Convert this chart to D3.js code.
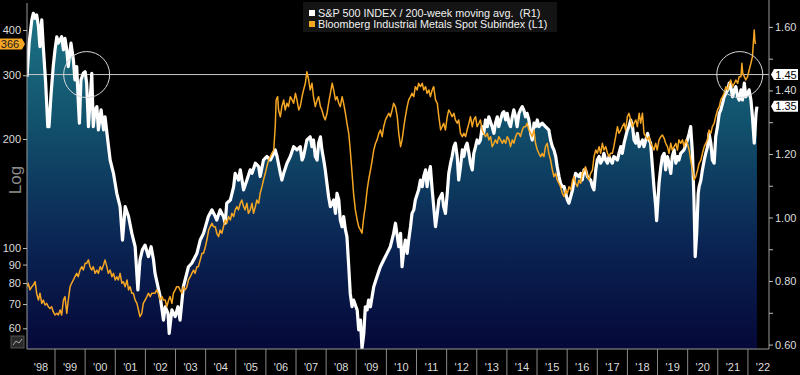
<!DOCTYPE html>
<html>
<head>
<meta charset="utf-8">
<script src="https://cdn.jsdelivr.net/npm/d3@7"></script>
<style>
  html, body { margin: 0; padding: 0; background: #000; }
  svg { display: block; }
  text { font-family: "Liberation Sans", Arial, sans-serif; }
</style>
</head>
<body>
<svg id="chart" width="800" height="375"></svg>
<script>
// S&P 500 / 200-week moving avg (right axis, R1)  [decimal year, ratio]
const spxRatio = [
  [1998.07,1.443],[1998.14,1.549],[1998.23,1.622],[1998.28,1.643],[1998.34,1.627],[1998.39,1.638],
  [1998.45,1.601],[1998.50,1.538],[1998.56,1.622],[1998.61,1.538],[1998.69,1.423],[1998.76,1.286],
  [1998.80,1.286],[1998.87,1.391],[1998.94,1.475],[1999.00,1.528],[1999.06,1.569],[1999.11,1.549],
  [1999.22,1.569],[1999.28,1.528],[1999.33,1.564],[1999.39,1.528],[1999.44,1.475],[1999.53,1.549],
  [1999.61,1.496],[1999.66,1.433],[1999.72,1.475],[1999.77,1.370],[1999.81,1.297],[1999.86,1.433],
  [1999.94,1.454],[2000.00,1.459],[2000.05,1.423],[2000.11,1.286],[2000.22,1.454],[2000.27,1.286],
  [2000.33,1.339],[2000.39,1.349],[2000.44,1.276],[2000.53,1.339],[2000.61,1.276],[2000.66,1.317],
  [2000.75,1.244],[2000.83,1.181],[2000.94,1.139],[2001.05,1.076],[2001.16,1.034],[2001.24,0.929],
  [2001.33,1.034],[2001.44,1.003],[2001.55,0.950],[2001.66,0.908],[2001.75,0.772],[2001.82,0.866],
  [2001.90,0.898],[2001.99,0.913],[2002.10,0.877],[2002.19,0.908],[2002.27,0.866],[2002.32,0.824],
  [2002.49,0.751],[2002.60,0.677],[2002.66,0.719],[2002.75,0.698],[2002.79,0.635],[2002.88,0.709],
  [2002.99,0.688],[2003.08,0.719],[2003.15,0.677],[2003.26,0.782],[2003.43,0.845],[2003.54,0.856],
  [2003.71,0.887],[2003.82,0.929],[2003.93,0.950],[2004.09,1.003],[2004.21,1.024],[2004.32,1.003],
  [2004.37,0.992],[2004.48,1.024],[2004.59,1.003],[2004.65,0.982],[2004.70,1.045],[2004.82,1.055],
  [2004.93,1.097],[2004.98,1.139],[2005.09,1.118],[2005.15,1.150],[2005.26,1.087],[2005.37,1.118],
  [2005.48,1.150],[2005.54,1.139],[2005.65,1.171],[2005.76,1.160],[2005.81,1.129],[2005.92,1.181],
  [2006.03,1.192],[2006.15,1.181],[2006.26,1.202],[2006.31,1.213],[2006.37,1.192],[2006.48,1.139],
  [2006.53,1.118],[2006.59,1.139],[2006.70,1.171],[2006.81,1.192],[2006.92,1.223],[2007.03,1.213],
  [2007.14,1.223],[2007.20,1.181],[2007.25,1.192],[2007.36,1.244],[2007.47,1.254],[2007.53,1.223],
  [2007.58,1.244],[2007.64,1.192],[2007.70,1.181],[2007.75,1.234],[2007.81,1.254],[2007.86,1.213],
  [2007.92,1.181],[2007.97,1.150],[2008.08,1.066],[2008.14,1.034],[2008.25,1.055],[2008.31,1.013],
  [2008.36,1.076],[2008.42,1.055],[2008.47,0.992],[2008.53,0.971],[2008.58,1.003],[2008.64,0.961],
  [2008.69,0.940],[2008.75,0.845],[2008.80,0.761],[2008.86,0.719],[2008.91,0.740],[2009.03,0.709],
  [2009.08,0.646],[2009.14,0.677],[2009.19,0.588],[2009.25,0.635],[2009.30,0.719],[2009.36,0.709],
  [2009.41,0.740],[2009.47,0.719],[2009.58,0.782],[2009.69,0.814],[2009.80,0.845],[2009.91,0.866],
  [2010.02,0.887],[2010.13,0.908],[2010.24,0.950],[2010.30,0.982],[2010.41,0.908],[2010.47,0.950],
  [2010.52,0.845],[2010.58,0.898],[2010.63,0.929],[2010.69,0.887],[2010.74,0.929],[2010.80,0.971],
  [2010.85,1.013],[2010.91,1.024],[2010.96,1.055],[2011.07,1.087],[2011.13,1.118],[2011.19,1.097],
  [2011.24,1.129],[2011.30,1.150],[2011.35,1.097],[2011.41,1.139],[2011.46,1.160],[2011.52,1.087],
  [2011.57,1.034],[2011.63,0.971],[2011.69,1.013],[2011.74,1.055],[2011.85,1.076],[2011.90,1.034],
  [2011.96,1.013],[2012.02,1.076],[2012.07,1.139],[2012.13,1.171],[2012.18,1.192],[2012.24,1.223],
  [2012.29,1.234],[2012.35,1.192],[2012.40,1.118],[2012.46,1.160],[2012.52,1.213],[2012.57,1.192],
  [2012.63,1.223],[2012.68,1.234],[2012.74,1.202],[2012.79,1.171],[2012.85,1.150],[2012.90,1.202],
  [2012.96,1.223],[2013.01,1.244],[2013.07,1.234],[2013.12,1.244],[2013.18,1.286],[2013.23,1.265],
  [2013.29,1.307],[2013.35,1.286],[2013.40,1.317],[2013.51,1.286],[2013.57,1.265],[2013.62,1.297],
  [2013.68,1.317],[2013.73,1.286],[2013.79,1.307],[2013.85,1.328],[2013.90,1.333],[2013.96,1.307],
  [2014.01,1.328],[2014.07,1.297],[2014.12,1.286],[2014.18,1.317],[2014.23,1.339],[2014.29,1.317],
  [2014.34,1.286],[2014.40,1.328],[2014.45,1.339],[2014.51,1.349],[2014.56,1.339],[2014.62,1.317],
  [2014.67,1.328],[2014.73,1.307],[2014.79,1.265],[2014.84,1.244],[2014.90,1.297],[2014.95,1.286],
  [2015.01,1.307],[2015.06,1.286],[2015.17,1.297],[2015.28,1.286],[2015.39,1.276],[2015.45,1.244],
  [2015.51,1.223],[2015.56,1.213],[2015.62,1.192],[2015.67,1.160],[2015.73,1.129],[2015.78,1.108],
  [2015.84,1.097],[2015.90,1.097],[2015.95,1.076],[2016.01,1.055],[2016.06,1.045],[2016.12,1.066],
  [2016.18,1.087],[2016.23,1.118],[2016.28,1.139],[2016.39,1.129],[2016.45,1.139],[2016.50,1.118],
  [2016.56,1.150],[2016.61,1.150],[2016.67,1.129],[2016.78,1.118],[2016.84,1.097],[2016.89,1.087],
  [2016.95,1.150],[2017.00,1.181],[2017.06,1.192],[2017.11,1.171],[2017.17,1.181],[2017.22,1.202],
  [2017.28,1.181],[2017.34,1.171],[2017.39,1.192],[2017.44,1.181],[2017.50,1.171],[2017.55,1.192],
  [2017.67,1.181],[2017.72,1.202],[2017.78,1.223],[2017.83,1.202],[2017.89,1.234],[2017.94,1.254],
  [2018.00,1.276],[2018.05,1.286],[2018.11,1.307],[2018.17,1.286],[2018.22,1.244],[2018.28,1.234],
  [2018.33,1.265],[2018.39,1.223],[2018.44,1.234],[2018.50,1.244],[2018.55,1.223],[2018.61,1.244],
  [2018.67,1.265],[2018.72,1.244],[2018.77,1.234],[2018.83,1.160],[2018.88,1.097],[2018.94,1.034],
  [2018.97,0.990],[2019.00,1.034],[2019.05,1.108],[2019.11,1.160],[2019.16,1.192],[2019.22,1.202],
  [2019.27,1.150],[2019.33,1.192],[2019.38,1.171],[2019.44,1.139],[2019.49,1.192],[2019.55,1.213],
  [2019.61,1.171],[2019.66,1.192],[2019.71,1.181],[2019.77,1.202],[2019.88,1.213],[2019.99,1.244],
  [2020.05,1.265],[2020.10,1.286],[2020.16,1.202],[2020.21,1.055],[2020.25,0.877],[2020.30,0.950],
  [2020.35,1.076],[2020.38,1.097],[2020.44,1.118],[2020.49,1.150],[2020.55,1.181],[2020.60,1.202],
  [2020.66,1.223],[2020.71,1.265],[2020.77,1.234],[2020.82,1.181],[2020.88,1.171],[2020.93,1.254],
  [2020.99,1.286],[2021.05,1.328],[2021.10,1.339],[2021.16,1.360],[2021.21,1.380],[2021.27,1.391],
  [2021.33,1.402],[2021.38,1.423],[2021.43,1.412],[2021.49,1.380],[2021.55,1.402],[2021.60,1.412],
  [2021.66,1.380],[2021.71,1.370],[2021.77,1.402],[2021.82,1.370],[2021.88,1.423],[2021.93,1.380],
  [2021.99,1.391],[2022.04,1.402],[2022.10,1.370],[2022.15,1.317],[2022.21,1.234],[2022.27,1.328],
  [2022.30,1.349]
];

// Bloomberg Industrial Metals Spot Subindex (left log axis, L1)  [decimal year, index]
const metalsIndex = [
  [1998.07,78.2],[1998.11,79.9],[1998.17,76.6],[1998.23,78.2],[1998.28,79.0],[1998.34,80.7],
  [1998.39,75.0],[1998.45,71.8],[1998.50,75.0],[1998.56,70.3],[1998.61,71.8],[1998.67,69.6],
  [1998.72,70.3],[1998.78,68.8],[1998.83,68.1],[1998.89,68.8],[1998.94,66.7],[1999.00,65.3],
  [1999.06,66.0],[1999.11,65.3],[1999.17,67.4],[1999.22,65.3],[1999.28,71.8],[1999.33,73.4],
  [1999.39,66.0],[1999.44,71.8],[1999.50,78.2],[1999.55,79.9],[1999.61,81.6],[1999.66,83.3],
  [1999.72,85.1],[1999.77,83.3],[1999.83,86.9],[1999.89,88.8],[1999.94,86.9],[2000.00,90.7],
  [2000.05,90.7],[2000.11,92.7],[2000.16,88.8],[2000.22,86.9],[2000.27,88.8],[2000.33,85.1],
  [2000.39,86.9],[2000.44,85.1],[2000.50,88.8],[2000.55,86.9],[2000.61,89.7],[2000.66,92.7],
  [2000.72,88.8],[2000.77,85.1],[2000.83,86.9],[2000.89,83.3],[2000.94,85.1],[2001.00,81.6],
  [2001.05,83.3],[2001.10,81.6],[2001.16,85.1],[2001.22,79.9],[2001.27,80.7],[2001.33,78.2],
  [2001.39,81.6],[2001.44,76.6],[2001.49,78.2],[2001.55,75.0],[2001.60,75.0],[2001.66,71.8],
  [2001.72,70.3],[2001.77,67.4],[2001.82,64.6],[2001.88,66.0],[2001.93,70.3],[2001.99,71.8],
  [2002.05,73.4],[2002.10,75.0],[2002.16,73.4],[2002.21,75.0],[2002.27,75.0],[2002.32,75.0],
  [2002.38,76.6],[2002.43,75.0],[2002.49,71.8],[2002.55,73.4],[2002.60,71.8],[2002.66,71.8],
  [2002.71,68.8],[2002.77,71.8],[2002.82,73.4],[2002.88,70.3],[2002.93,75.0],[2002.99,76.6],
  [2003.04,78.2],[2003.10,78.2],[2003.15,76.6],[2003.21,75.0],[2003.26,78.2],[2003.32,76.6],
  [2003.38,78.2],[2003.43,81.6],[2003.49,83.3],[2003.54,85.1],[2003.60,86.9],[2003.65,85.1],
  [2003.71,88.8],[2003.76,88.8],[2003.82,92.7],[2003.88,96.7],[2003.93,96.7],[2003.99,100.8],
  [2004.04,105.2],[2004.10,112.1],[2004.15,114.5],[2004.21,117.0],[2004.26,114.5],[2004.32,114.5],
  [2004.37,109.8],[2004.43,107.5],[2004.48,112.1],[2004.54,109.8],[2004.59,114.5],[2004.65,119.5],
  [2004.70,117.0],[2004.76,122.1],[2004.82,119.5],[2004.87,124.7],[2004.93,122.1],[2004.98,127.4],
  [2005.04,130.1],[2005.09,127.4],[2005.15,132.9],[2005.20,135.7],[2005.26,130.1],[2005.31,127.4],
  [2005.37,132.9],[2005.42,124.7],[2005.48,127.4],[2005.54,132.9],[2005.59,124.7],[2005.65,130.1],
  [2005.70,135.7],[2005.76,132.9],[2005.81,141.6],[2005.87,147.7],[2005.92,154.1],[2005.98,160.8],
  [2006.03,167.7],[2006.09,175.0],[2006.15,178.7],[2006.20,182.6],[2006.26,186.5],[2006.31,216.3],
  [2006.34,256.4],[2006.39,261.8],[2006.42,240.6],[2006.48,230.5],[2006.53,245.7],[2006.59,256.4],
  [2006.64,240.6],[2006.70,251.0],[2006.75,245.7],[2006.81,261.8],[2006.87,256.4],[2006.92,251.0],
  [2006.98,267.5],[2007.03,256.4],[2007.09,240.6],[2007.14,245.7],[2007.20,261.8],[2007.25,273.2],
  [2007.31,285.1],[2007.36,306.9],[2007.42,291.1],[2007.47,273.2],[2007.53,285.1],[2007.58,261.8],
  [2007.64,245.7],[2007.70,256.4],[2007.75,261.8],[2007.81,245.7],[2007.86,240.6],[2007.92,230.5],
  [2007.97,225.8],[2008.03,235.6],[2008.08,251.0],[2008.14,267.5],[2008.20,285.1],[2008.25,273.2],
  [2008.31,256.4],[2008.36,261.8],[2008.42,251.0],[2008.47,245.7],[2008.53,261.8],[2008.58,251.0],
  [2008.64,235.6],[2008.69,221.1],[2008.75,207.4],[2008.80,186.5],[2008.86,160.8],[2008.91,141.6],
  [2008.97,127.4],[2009.03,119.5],[2009.08,114.5],[2009.14,112.1],[2009.19,109.8],[2009.25,122.1],
  [2009.30,130.1],[2009.36,144.6],[2009.41,154.1],[2009.47,164.2],[2009.53,175.0],[2009.58,186.5],
  [2009.64,194.6],[2009.69,198.9],[2009.75,207.4],[2009.80,211.8],[2009.86,203.0],[2009.91,216.3],
  [2009.97,225.8],[2010.02,230.5],[2010.08,235.6],[2010.13,230.5],[2010.19,240.6],[2010.24,251.0],
  [2010.30,245.7],[2010.36,230.5],[2010.41,207.4],[2010.47,190.5],[2010.52,198.9],[2010.58,216.3],
  [2010.63,230.5],[2010.69,245.7],[2010.74,256.4],[2010.80,261.8],[2010.85,267.5],[2010.91,261.8],
  [2010.96,279.0],[2011.02,273.2],[2011.07,285.1],[2011.13,279.0],[2011.19,285.1],[2011.24,273.2],
  [2011.30,279.0],[2011.35,267.5],[2011.41,273.2],[2011.46,261.8],[2011.52,273.2],[2011.57,279.0],
  [2011.63,256.4],[2011.69,251.0],[2011.74,230.5],[2011.80,211.8],[2011.85,216.3],[2011.90,221.1],
  [2011.96,211.8],[2012.02,230.5],[2012.07,240.6],[2012.13,235.6],[2012.18,230.5],[2012.24,235.6],
  [2012.29,225.8],[2012.35,221.1],[2012.40,225.8],[2012.46,207.4],[2012.52,203.0],[2012.57,207.4],
  [2012.63,203.0],[2012.68,211.8],[2012.74,221.1],[2012.79,230.5],[2012.85,216.3],[2012.90,225.8],
  [2012.96,230.5],[2013.01,216.3],[2013.07,221.1],[2013.12,225.8],[2013.18,211.8],[2013.23,207.4],
  [2013.29,203.0],[2013.35,207.4],[2013.40,198.9],[2013.46,203.0],[2013.51,190.5],[2013.57,194.6],
  [2013.62,198.9],[2013.68,194.6],[2013.73,203.0],[2013.79,198.9],[2013.85,194.6],[2013.90,198.9],
  [2013.96,194.6],[2014.01,203.0],[2014.07,198.9],[2014.12,190.5],[2014.18,198.9],[2014.23,194.6],
  [2014.29,203.0],[2014.34,207.4],[2014.40,207.4],[2014.45,203.0],[2014.51,211.8],[2014.56,216.3],
  [2014.62,216.3],[2014.67,221.1],[2014.73,211.8],[2014.79,207.4],[2014.84,203.0],[2014.90,211.8],
  [2014.95,194.6],[2015.01,186.5],[2015.06,182.6],[2015.12,178.7],[2015.17,182.6],[2015.23,178.7],
  [2015.28,190.5],[2015.34,194.6],[2015.39,182.6],[2015.45,175.0],[2015.51,164.2],[2015.56,157.4],
  [2015.62,160.8],[2015.67,154.1],[2015.73,150.9],[2015.78,147.7],[2015.84,141.6],[2015.90,138.6],
  [2015.95,144.6],[2016.01,141.6],[2016.06,147.7],[2016.12,144.6],[2016.18,154.1],[2016.23,157.4],
  [2016.28,150.9],[2016.34,147.7],[2016.39,154.1],[2016.45,150.9],[2016.50,160.8],[2016.56,164.2],
  [2016.61,167.7],[2016.67,157.4],[2016.72,154.1],[2016.78,160.8],[2016.84,164.2],[2016.89,178.7],
  [2016.95,186.5],[2017.00,182.6],[2017.06,190.5],[2017.11,182.6],[2017.17,194.6],[2017.22,186.5],
  [2017.28,190.5],[2017.34,182.6],[2017.39,178.7],[2017.44,182.6],[2017.50,182.6],[2017.55,190.5],
  [2017.61,203.0],[2017.67,216.3],[2017.72,207.4],[2017.78,211.8],[2017.83,216.3],[2017.89,221.1],
  [2017.94,211.8],[2018.00,230.5],[2018.05,235.6],[2018.11,225.8],[2018.17,216.3],[2018.22,221.1],
  [2018.28,225.8],[2018.33,216.3],[2018.39,235.6],[2018.44,221.1],[2018.50,235.6],[2018.55,207.4],
  [2018.61,203.0],[2018.67,198.9],[2018.72,203.0],[2018.77,194.6],[2018.83,190.5],[2018.88,186.5],
  [2018.94,194.6],[2018.99,186.5],[2019.05,198.9],[2019.11,203.0],[2019.16,205.2],[2019.22,200.9],
  [2019.27,194.6],[2019.33,190.5],[2019.38,182.6],[2019.44,194.6],[2019.49,186.5],[2019.55,190.5],
  [2019.61,194.6],[2019.66,186.5],[2019.71,198.9],[2019.77,194.6],[2019.83,198.9],[2019.88,190.5],
  [2019.94,198.9],[2019.99,194.6],[2020.05,186.5],[2020.10,175.0],[2020.16,164.2],[2020.21,154.1],
  [2020.27,157.4],[2020.33,164.2],[2020.38,171.4],[2020.44,175.0],[2020.49,182.6],[2020.55,190.5],
  [2020.60,194.6],[2020.66,198.9],[2020.71,211.8],[2020.77,207.4],[2020.82,216.3],[2020.88,221.1],
  [2020.93,230.5],[2020.99,240.6],[2021.05,245.7],[2021.10,256.4],[2021.16,261.8],[2021.21,267.5],
  [2021.27,279.0],[2021.33,273.2],[2021.38,285.1],[2021.43,291.1],[2021.49,279.0],[2021.55,285.1],
  [2021.60,291.1],[2021.66,285.1],[2021.71,297.3],[2021.77,297.3],[2021.80,323.8],[2021.83,303.8],
  [2021.88,297.3],[2021.93,291.1],[2021.99,297.3],[2022.04,310.2],[2022.10,323.8],[2022.15,337.7],
  [2022.18,367.8],[2022.21,400.0],[2022.23,375.6],[2022.25,366.0]
];

const leftTicks = [60, 70, 80, 90, 100, 200, 300, 400];
const rightTicks = [0.6, 0.7, 0.8, 0.9, 1.0, 1.1, 1.2, 1.3, 1.4, 1.5, 1.6];
const rightLabelled = [0.6, 0.8, 1.0, 1.2, 1.4, 1.6];
const years = d3.range(1998, 2023);
const yearLabels = years.map(y => "'" + String(y).slice(2));
const lastMetals = 366;
const lastSpx = 1.35;
const refLevel = 1.45;
const circleYears = [2000.05, 2021.73];
const legendItems = [
  { label: "S&P 500 INDEX / 200-week moving avg.  (R1)", color: "#ffffff" },
  { label: "Bloomberg Industrial Metals Spot Subindex (L1)", color: "#f5a623" }
];

const plotL = 27, plotR = 769, plotT = 5, plotB = 349, svgH = 375;
const svg = d3.select("#chart");

const x = d3.scaleLinear().domain([1998.07, 2022.7]).range([plotL, plotR]);
const yR = d3.scaleLinear().domain([0.586, 1.669]).range([plotB, plotT]);
const yL = d3.scaleLog().domain([52.6, 469]).range([plotB, plotT]);

const defs = svg.append("defs");
const grad = defs.append("linearGradient")
  .attr("id", "fillGrad")
  .attr("gradientUnits", "userSpaceOnUse")
  .attr("x1", 0).attr("y1", plotT).attr("x2", 0).attr("y2", plotB);
grad.append("stop").attr("offset", "0%").attr("stop-color", "#1f7888");
grad.append("stop").attr("offset", "35%").attr("stop-color", "#11506b");
grad.append("stop").attr("offset", "70%").attr("stop-color", "#0a2453");
grad.append("stop").attr("offset", "100%").attr("stop-color", "#050838");

defs.append("clipPath").attr("id", "plotClip")
  .append("rect").attr("x", plotL).attr("y", 0).attr("width", plotR - plotL).attr("height", plotB);

const plot = svg.append("g").attr("clip-path", "url(#plotClip)");

// area under the S&P ratio
plot.append("path")
  .datum(spxRatio)
  .attr("fill", "url(#fillGrad)")
  .attr("d", d3.area().x(d => x(d[0])).y0(plotB).y1(d => yR(d[1])));

// reference line at 1.45
plot.append("line")
  .attr("x1", plotL).attr("x2", plotR)
  .attr("y1", yR(refLevel)).attr("y2", yR(refLevel))
  .attr("stroke", "#c8c8c8").attr("stroke-width", 1);

plot.append("path")
  .datum(spxRatio)
  .attr("fill", "none")
  .attr("stroke", "#ffffff")
  .attr("stroke-width", 3.2)
  .attr("stroke-linejoin", "round")
  .attr("d", d3.line().x(d => x(d[0])).y(d => yR(d[1])));

plot.append("path")
  .datum(metalsIndex)
  .attr("fill", "none")
  .attr("stroke", "#f5a623")
  .attr("stroke-width", 1.5)
  .attr("stroke-linejoin", "round")
  .attr("d", d3.line().x(d => x(d[0])).y(d => yL(d[1])));

// circles
svg.selectAll("circle.note")
  .data(circleYears)
  .enter().append("circle")
  .attr("class", "note")
  .attr("cx", d => x(d)).attr("cy", yR(refLevel))
  .attr("r", 23)
  .attr("fill", "none")
  .attr("stroke", "#d8d8d8")
  .attr("stroke-width", 1);

// left axis
const leftAxis = svg.append("g")
  .attr("transform", `translate(${plotL},0)`)
  .call(d3.axisLeft(yL).tickValues(leftTicks).tickFormat(d3.format("d")).tickSize(4).tickSizeOuter(0));
leftAxis.select(".domain").attr("stroke", "#9a9a9a").attr("d", `M0,3V${plotB}`);
leftAxis.selectAll(".tick line").attr("stroke", "#bbb");
leftAxis.selectAll(".tick text").attr("fill", "#ddd").attr("font-size", 11).attr("x", -6)
  .style("font-family", "Liberation Sans, Arial, sans-serif");

// right axis
const rightAxis = svg.append("g")
  .attr("transform", `translate(${plotR},0)`)
  .call(d3.axisRight(yR).tickValues(rightTicks)
    .tickFormat(d => rightLabelled.some(v => Math.abs(v - d) < 1e-9) ? d3.format(".2f")(d) : "")
    .tickSize(4).tickSizeOuter(0));
rightAxis.select(".domain").attr("stroke", "#9a9a9a").attr("d", `M0,0V${plotB}`);
rightAxis.selectAll(".tick line").attr("stroke", "#bbb");
rightAxis.selectAll(".tick text").attr("fill", "#ddd").attr("font-size", 11).attr("x", 6)
  .style("font-family", "Liberation Sans, Arial, sans-serif");

// bottom axis: year separators and labels
svg.append("line")
  .attr("x1", plotL).attr("x2", plotR).attr("y1", plotB).attr("y2", plotB)
  .attr("stroke", "#9a9a9a");
svg.selectAll("line.sep")
  .data(years.filter(y => x(y) > plotL && x(y) < plotR))
  .enter().append("line")
  .attr("class", "sep")
  .attr("x1", d => x(d)).attr("x2", d => x(d))
  .attr("y1", plotB).attr("y2", svgH)
  .attr("stroke", "#8a8a8a").attr("stroke-width", 1);
svg.selectAll("text.year")
  .data(years)
  .enter().append("text")
  .attr("class", "year")
  .attr("x", d => Math.max(x(d + 0.5), (plotL + x(d + 1)) / 2))
  .attr("y", 371)
  .attr("text-anchor", "middle")
  .attr("fill", "#ddd")
  .attr("font-size", 11)
  .text((d, i) => yearLabels[i]);

// value tags
function tag(g, cx, cy, txt, bg, fg, pointLeft) {
  const w = 24, h = 11;
  const pts = pointLeft
    ? [[cx, cy], [cx + 3, cy - h / 2], [cx + 3 + w, cy - h / 2], [cx + 3 + w, cy + h / 2], [cx + 3, cy + h / 2]]
    : [[cx, cy], [cx - 3, cy - h / 2], [cx - 3 - w, cy - h / 2], [cx - 3 - w, cy + h / 2], [cx - 3, cy + h / 2]];
  g.append("polygon").attr("points", pts.map(p => p.join(",")).join(" ")).attr("fill", bg);
  g.append("text")
    .attr("x", pointLeft ? cx + 3 + w / 2 : cx - 3 - w / 2)
    .attr("y", cy + 4)
    .attr("text-anchor", "middle")
    .attr("fill", fg)
    .attr("font-size", 11)
    .text(txt);
}
tag(svg, plotL - 2, yL(lastMetals), String(lastMetals), "#f5a623", "#1a1a1a", false);
tag(svg, plotR + 2, yR(refLevel), refLevel.toFixed(2), "#ffffff", "#000", true);
tag(svg, plotR + 2, yR(lastSpx), lastSpx.toFixed(2), "#ffffff", "#000", true);

// "Log" axis title
svg.append("text")
  .attr("transform", "translate(21,180) rotate(-90)")
  .attr("text-anchor", "middle")
  .attr("fill", "#8c8c8c")
  .attr("font-size", 17)
  .text("Log");

// small chart icon at bottom-left
const icon = svg.append("g");
icon.append("rect").attr("x", 11).attr("y", 336).attr("width", 13).attr("height", 12)
  .attr("fill", "#2a2a2a").attr("stroke", "#555");
icon.append("polyline").attr("points", "13,345 16,341 19,343 22,339")
  .attr("fill", "none").attr("stroke", "#aaa").attr("stroke-width", 1);

// legend
const legend = svg.append("g");
legend.append("rect").attr("x", 303).attr("y", 2).attr("width", 254).attr("height", 30)
  .attr("fill", "#141414");
legendItems.forEach((item, i) => {
  legend.append("rect").attr("x", 309).attr("y", 10 + i * 11).attr("width", 6).attr("height", 6)
    .attr("fill", item.color);
  legend.append("text").attr("x", 318).attr("y", 17 + i * 11)
    .attr("fill", "#f0f0f0").attr("font-size", 10.8)
    .style("white-space", "pre")
    .text(item.label);
});
</script>
</body>
</html>
